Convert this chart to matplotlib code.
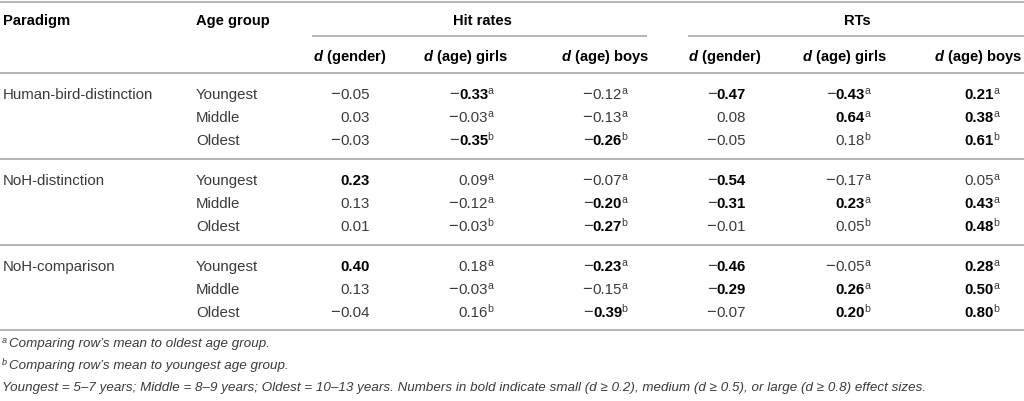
import matplotlib
matplotlib.use("Agg")
import matplotlib.pyplot as plt
from matplotlib import font_manager

# ---------------- data ----------------
paradigms = ["Human-bird-distinction", "NoH-distinction", "NoH-comparison"]
age_groups = ["Youngest", "Middle", "Oldest"]
group_headers = ["Hit rates", "RTs"]
col_names = ["(gender)", "(age) girls", "(age) boys"]
hit_gender = [-0.05, 0.03, -0.03, 0.23, 0.13, 0.01, 0.40, 0.13, -0.04]
hit_girls = [-0.33, -0.03, -0.35, 0.09, -0.12, -0.03, 0.18, -0.03, 0.16]
hit_boys = [-0.12, -0.13, -0.26, -0.07, -0.20, -0.27, -0.23, -0.15, -0.39]
rt_gender = [-0.47, 0.08, -0.05, -0.54, -0.31, -0.01, -0.46, -0.29, -0.07]
rt_girls = [-0.43, 0.64, 0.18, -0.17, 0.23, 0.05, -0.05, 0.26, 0.20]
rt_boys = [0.21, 0.38, 0.61, 0.05, 0.43, 0.48, 0.28, 0.50, 0.80]
age_marks = ["a", "a", "b"]
footnotes = [
    ("a", "Comparing row\u2019s mean to oldest age group."),
    ("b", "Comparing row\u2019s mean to youngest age group."),
    ("", "Youngest = 5\u20137 years; Middle = 8\u20139 years; Oldest = 10\u201313 years. "
         "Numbers in bold indicate small (d \u2265 0.2), medium (d \u2265 0.5), "
         "or large (d \u2265 0.8) effect sizes."),
]
bold_threshold = 0.2

# ---------------- style ----------------
plt.rcParams["font.family"] = ["Liberation Sans", "DejaVu Sans"]
plt.rcParams["mathtext.fontset"] = "custom"
plt.rcParams["mathtext.rm"] = "Liberation Sans"
plt.rcParams["mathtext.it"] = "Liberation Sans:italic"
plt.rcParams["mathtext.bf"] = "Liberation Sans:bold"
plt.rcParams["mathtext.bfit"] = "Liberation Sans:italic:bold"

FS = 10.8
HFS = 10.6
SFS = 7.6
REG = "#3a3a3a"
BLK = "#000000"
LINE = "#b4b4b4"
MINUS = "\u2212"

fig = plt.figure(figsize=(10.24, 4.02), dpi=100)
ax = fig.add_axes([0, 0, 1, 1])
ax.set_xlim(0, 1024)
ax.set_ylim(402, 0)
ax.axis("off")

# rules
lw = 1.4
ax.hlines([3, 74, 160, 246, 331], 0, 1024, color=LINE, lw=lw)
ax.hlines(37, 312, 647, color=LINE, lw=lw)
ax.hlines(37, 688, 1024, color=LINE, lw=lw)

# header row 1
ax.text(3, 25, "Paradigm", fontsize=HFS, fontweight="bold", color=BLK, va="baseline")
ax.text(196, 25, "Age group", fontsize=HFS, fontweight="bold", color=BLK, va="baseline")
group_centers = [482, 857]
for g, cx in zip(group_headers, group_centers):
    ax.text(cx, 25, g, fontsize=HFS, fontweight="bold", color=BLK, va="baseline", ha="center")

# header row 2
header_centers = [350, 466, 605, 725, 845, 978]
for i, cx in enumerate(header_centers):
    name = col_names[i % 3].replace(" ", r"\ ")
    lab = r"$\mathbfit{d}\mathbf{\ " + name + "}$"
    ax.text(cx, 61, lab, fontsize=HFS, color=BLK, va="baseline", ha="center")

# body
baselines = [99, 122, 145, 185, 208, 231, 271, 294, 317]
for p, name in enumerate(paradigms):
    ax.text(3, baselines[3 * p], name, fontsize=FS, color=REG, va="baseline")
    for a, ag in enumerate(age_groups):
        ax.text(196, baselines[3 * p + a], ag, fontsize=FS, color=REG, va="baseline")

columns = [hit_gender, hit_girls, hit_boys, rt_gender, rt_girls, rt_boys]
has_mark = [False, True, True, False, True, True]
right_edges = [370, 488, 622, 746, 865, 994]
negatives = []
for c, vals in enumerate(columns):
    for r, v in enumerate(vals):
        bold = abs(v) >= bold_threshold - 1e-9
        x, y = right_edges[c], baselines[r]
        t = ax.text(x, y, f"{abs(v):.2f}", fontsize=FS,
                    fontweight="bold" if bold else "normal",
                    color=BLK if bold else REG, va="baseline", ha="right")
        if has_mark[c]:
            ax.text(x - 0.6, y - 4.6, age_marks[r % 3], fontsize=SFS,
                    color=REG, va="baseline", ha="left")
        if v < 0:
            negatives.append((t, y, bold))

# footnotes
fam = ["Liberation Sans Narrow", "Liberation Sans", "DejaVu Sans"]
try:
    font_manager.findfont("Liberation Sans Narrow", fallback_to_default=False)
except Exception:
    fam = ["Liberation Sans", "DejaVu Sans"]
foot_base = [347, 369, 391]
foot_objs = []
for (mark, txt), y in zip(footnotes, foot_base):
    x0 = 9 if mark else 2
    if mark:
        ax.text(2, y - 4, mark, fontsize=6.5, style="italic",
                color=REG, va="baseline", family=fam)
    foot_objs.append(ax.text(x0, y, txt, fontsize=9.0, style="italic", color=REG,
                             va="baseline", family=fam))

# measure: place minus signs and fit the footnote width
fig.canvas.draw()
rend = fig.canvas.get_renderer()
inv = ax.transData.inverted()
for t, y, bold in negatives:
    bb = t.get_window_extent(rend)
    left = inv.transform((bb.x0, bb.y0))[0]
    gap = 0.0 if bold else 1.0
    ax.text(left - gap, y, MINUS, fontsize=FS * 1.1, color=REG, va="baseline", ha="right")

bb = foot_objs[-1].get_window_extent(rend)
scale = (921 - 2) / bb.width
for t in foot_objs:
    t.set_fontsize(9.0 * scale)

fig.savefig("out.png", dpi=100)
